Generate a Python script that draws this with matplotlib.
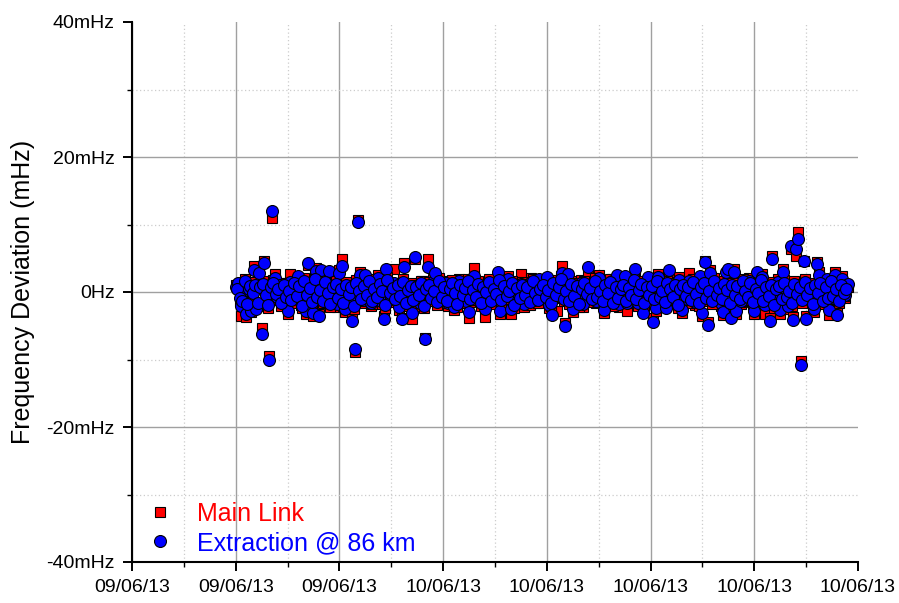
import datetime as dt
import matplotlib
matplotlib.use("Agg")
import matplotlib.pyplot as plt
import matplotlib.dates as mdates

plt.rcParams["font.family"] = ["Liberation Sans", "DejaVu Sans"]

# readings every 3 minutes from 16:00 on 9 June 2013, stored as two
# 6-minute passes: pass A at 16:00, 16:06, ... and pass B at 16:03, 16:09, ...
start = dt.datetime(2013, 6, 9, 16, 0)
step_min = 6

# frequency deviation in mHz, pass A
main_link_a = [
    1.1, 0.9, -3.5, 0.5, -3.7, 0.1, -3.0, 3.9, -2.0, 3.2,
    -5.3, 4.6, 0.9, -9.5, 11.0, 2.6, -1.2, 1.4, -0.8, 0.7,
    -3.3, 2.7, -1.3, 1.0, 2.0, -1.9, 0.5, -3.2, 4.0, -0.1,
    -3.5, 3.6, -3.2, 3.0, -0.9, 1.3, 2.7, -1.5, 0.8, -2.2,
    3.3, 4.9, -2.9, 1.0, -1.3, -3.4, -8.9, 10.6, 2.9, -1.6,
    2.1, 0.7, -2.1, 1.5, -1.0, 2.5, -1.8, -3.6, 3.0, 0.6,
    -1.4, 3.4, -0.7, -2.6, -3.9, 4.3, 1.2, -1.9, -4.0, 4.9,
    0.8, -2.0, 1.6, -6.8, 4.9, -1.1, 1.9, 2.5, -1.5, 1.0,
    -0.8, 1.7, -2.0, 1.3, -2.6, 0.5, 2.0, -1.2, 0.9, -1.7,
    -3.9, 1.2, 3.6, -0.9, 1.4, -1.9, -3.7, 0.7, 1.8, -1.3,
    1.0, 2.6, -3.2, -0.6, 1.5, 2.3, -3.3, 0.8, -1.4, 1.3,
    2.7, -2.2, 0.6, -1.1, 2.1, 1.2, -1.6, 1.5, -0.7, 0.9,
    1.8, -2.3, -3.0, 1.1, -2.8, 1.7, 3.9, -4.6, 2.3, -0.8,
    -2.9, 1.3, -1.5, 1.8, -2.2, 0.6, 2.8, -1.2, 1.0, -1.7,
    2.5, 0.7, -3.1, 1.4, -0.9, 2.0, -1.6, 2.1, -2.2, 0.8,
    2.0, -2.8, 1.1, -1.3, 2.7, -2.0, 0.9, -2.7, -1.3, 1.8,
    -1.1, -3.9, -2.8, 2.6, 0.7, 1.6, -2.0, 2.9, -1.0, 1.3,
    -1.7, 2.2, -3.1, 0.8, -1.4, 2.8, 0.6, -1.9, 1.2, 2.0,
    -3.5, 4.6, -4.5, 3.2, -0.7, 1.3, -1.6, -2.0, -3.4, 2.6,
    3.0, -3.5, 3.4, -3.2, 0.9, -1.8, 1.5, -1.0, 2.1, -1.5,
    -3.2, 2.6, 0.8, 2.6, -3.3, 1.2, -3.9, 5.3, -1.3, 1.9,
    -3.3, 3.4, -0.7, -2.5, 6.3, -3.7, 5.3, 8.9, -10.2, 4.6,
    -3.6, 0.7, -1.7, -2.9, 4.5, 2.9, -1.0, 1.2, 1.5, -3.4,
    -1.3, 2.9, -3.0, -0.1, 2.4, -0.9, 0.8,
]
extraction_a = [
    0.8, 1.3, -2.1, 0.2, -3.3, 0.5, -2.8, 3.3, -2.5, 2.8,
    -6.2, 4.3, 0.6, -10.1, 12.0, 2.1, -0.8, 1.0, -1.2, 0.3,
    -2.8, 1.5, -0.9, 0.7, 2.4, -1.5, 0.1, -2.8, 4.3, -0.4,
    -3.1, 3.1, -3.6, 3.3, -0.5, 0.9, 3.1, -1.1, 0.4, -1.8,
    2.8, 3.9, -2.5, 0.6, -0.9, -4.3, -8.4, 10.4, 2.5, -1.2,
    2.5, 0.3, -1.7, 1.1, -0.6, 2.1, -1.4, -4.0, 3.4, 0.2,
    -1.0, 1.4, -0.3, -2.2, -4.0, 3.7, 0.8, -1.5, -3.1, 5.2,
    0.4, -1.6, 1.2, -7.0, 3.7, -0.7, 1.5, 2.8, -1.1, 0.6,
    -0.4, 1.3, -1.6, 0.9, -2.2, 0.1, 1.6, -0.8, 0.5, -1.3,
    -3.0, 0.8, 2.4, -0.5, 1.0, -1.5, -2.5, 0.3, 1.4, -0.9,
    0.6, 3.0, -2.8, -0.2, 1.1, 1.9, -2.5, 0.4, -1.0, 0.9,
    1.2, -1.8, 0.2, -0.7, 1.5, 0.8, -1.2, 1.9, -0.3, 0.5,
    2.2, -1.9, -3.4, 0.7, -0.6, 1.3, 2.8, -5.0, 2.7, -0.4,
    -2.5, 0.9, -1.1, 1.4, -1.8, 0.2, 3.7, -0.8, 0.6, -1.3,
    2.1, 0.3, -2.7, 1.0, -0.5, 1.6, -1.2, 2.5, -1.8, 0.4,
    2.4, -1.6, 0.7, -0.9, 3.4, -1.6, 0.5, -3.1, 1.0, 2.2,
    -0.7, -4.4, -2.4, 2.2, 0.3, 1.2, -2.4, 3.3, -0.6, 0.9,
    -1.3, 1.8, -2.7, 0.4, -1.0, 1.6, 0.2, -1.5, 0.8, 2.4,
    -3.1, 4.4, -4.9, 2.8, -0.3, 0.9, -1.2, -1.6, -3.0, 3.0,
    3.4, -3.9, 3.0, -2.8, 0.5, -1.4, 1.1, -0.6, 1.7, -1.1,
    -2.8, 3.0, 0.4, 2.2, -1.9, 0.8, -4.3, 4.9, -0.9, 1.5,
    -2.6, 2.9, -0.3, -2.1, 6.8, -4.1, 6.4, 7.9, -10.8, 4.6,
    -4.0, 0.3, -1.3, -2.5, 4.1, 2.5, -0.6, 0.8, 1.9, -2.7,
    -0.9, 2.5, -3.4, 0.9, 2.0, -0.5, 1.2,
]

# pass B, 3 minutes after each pass A reading
main_link_b = [
    0.7, -1.3, -1.0, 2.0, -2.2, 1.2, -0.6, 1.5, -2.0, 1.0,
    1.6, -0.9, -2.3, 1.1, 1.8, -0.7, 0.9, -2.1, 1.3, -1.2,
    0.6, -1.6, 1.7, -1.0, 1.2, -2.4, 2.1, -0.8, 1.0, -1.9,
    2.3, -1.1, 0.7, -1.7, 1.9, -0.5, -2.2, 1.2, 1.6, -1.3,
    0.9, -2.0, 1.5, -0.7, 1.1, -2.5, 1.8, 0.6, -1.4, 1.3,
    -0.9, 2.0, -1.8, 0.8, -1.2, 1.6, 0.5, -2.3, 2.2, -0.6,
    1.0, -1.5, 1.4, -1.0, 1.9, -2.1, 0.7, 1.3, -1.6, 1.1,
    -0.8, 1.7, -2.4, 0.9, 1.5, -1.3, 0.6, -1.9, 2.1, -1.1,
    1.2, -1.7, 0.8, 1.8, -0.6, -2.2, 1.4, -0.9, 1.0, 2.0,
    -1.5, 0.7, -1.2, 1.6, -2.0, 1.1, 0.4, 1.9, -1.8, 0.9,
    -0.7, 2.2, -1.6, 1.3, -1.0, 0.6, 1.7, -2.3, 1.0, -1.3,
    1.5, -0.8, 1.2, -1.9, 2.0, -0.5, -1.6, 0.8, 1.4, -1.1,
    0.7, -2.1, 1.8, -0.9, 1.1, 2.3, -1.4, 0.5, -1.8, 1.6,
    -1.0, 1.3, -2.2, 0.9, 1.7, -0.7, 1.0, -1.5, 2.1, -1.2,
    0.6, -1.8, 1.4, -0.6, 1.9, -2.0, 1.1, -1.3, 0.8, 1.5,
    -1.7, 1.0, -0.9, 2.2, -1.4, 0.7, 1.6, -2.1, 1.2, -0.8,
    1.3, -1.5, 2.0, -1.1, 0.5, -1.9, 1.7, 0.9, -1.2, 1.4,
    -2.3, 0.8, 1.5, -1.0, 1.2, -1.6, 1.9, -0.7, -2.0, 1.1,
    1.8, -1.3, 0.6, -1.8, 2.1, -0.9, 1.0, -1.4, 1.6, 0.7,
    -2.1, 1.4, -0.8, 1.3, -1.5, 2.0, 0.5, -1.2, 1.7, -1.9,
    0.9, -0.6, 2.2, -1.7, 1.1, -1.0, 1.5, -2.3, 0.8, 1.3,
    -1.4, 1.8, -1.1, 0.6, -2.0, 1.6, -0.7, 1.2, -1.6, 1.9,
    -0.9, 1.0, -2.2, 1.4, -0.5, 1.7, -1.8, 1.1, -1.3, 2.0,
    -1.0, 0.8, -1.7, 1.5, -0.6, 0.9,
]
extraction_b = [
    0.4, -0.9, -1.4, 1.6, -1.8, 0.9, -0.2, 1.1, -1.6, 0.7,
    1.2, -0.5, -1.9, 0.8, 1.4, -0.3, 0.5, -1.7, 1.0, -0.8,
    0.2, -1.2, 1.3, -0.6, 0.9, -2.0, 1.7, -0.4, 0.6, -1.5,
    1.9, -0.7, 0.3, -1.3, 1.5, -0.1, -1.8, 0.8, 1.2, -0.9,
    0.5, -1.6, 1.1, -0.3, 0.7, -2.1, 1.4, 0.2, -1.0, 0.9,
    -0.5, 1.6, -1.4, 0.4, -0.8, 1.2, 0.1, -1.9, 1.8, -0.2,
    0.6, -1.1, 1.0, -0.6, 1.5, -1.7, 0.3, 0.9, -1.2, 0.7,
    -0.4, 1.3, -2.0, 0.5, 1.1, -0.9, 0.2, -1.5, 1.7, -0.7,
    0.8, -1.3, 0.4, 1.4, -0.2, -1.8, 1.0, -0.5, 0.6, 1.6,
    -1.1, 0.3, -0.8, 1.2, -1.6, 0.7, 0.0, 1.5, -1.4, 0.5,
    -0.3, 1.8, -1.2, 0.9, -0.6, 0.2, 1.3, -1.9, 0.6, -0.9,
    1.1, -0.4, 0.8, -1.5, 1.6, -0.1, -1.2, 0.4, 1.0, -0.7,
    0.3, -1.7, 1.4, -0.5, 0.7, 1.9, -1.0, 0.1, -1.4, 1.2,
    -0.6, 0.9, -1.8, 0.5, 1.3, -0.3, 0.6, -1.1, 1.7, -0.8,
    0.2, -1.4, 1.0, -0.2, 1.5, -1.6, 0.7, -0.9, 0.4, 1.1,
    -1.3, 0.6, -0.5, 1.8, -1.0, 0.3, 1.2, -1.7, 0.8, -0.4,
    0.9, -1.1, 1.6, -0.7, 0.1, -1.5, 1.3, 0.5, -0.8, 1.0,
    -1.9, 0.4, 1.1, -0.6, 0.8, -1.2, 1.5, -0.3, -1.6, 0.7,
    1.4, -0.9, 0.2, -1.4, 1.7, -0.5, 0.6, -1.0, 1.2, 0.3,
    -1.7, 1.0, -0.4, 0.9, -1.1, 1.6, 0.1, -0.8, 1.3, -1.5,
    0.5, -0.2, 1.8, -1.3, 0.7, -0.6, 1.1, -1.9, 0.4, 0.9,
    -1.0, 1.4, -0.7, 0.2, -1.6, 1.2, -0.3, 0.8, -1.2, 1.5,
    -0.5, 0.6, -1.8, 1.0, -0.1, 1.3, -1.4, 0.7, -0.9, 1.6,
    -0.6, 0.4, -1.3, 1.1, -0.2, 0.5,
]

series_names = ["Main Link", "Extraction @ 86 km"]
y_ticks = [-40, -20, 0, 20, 40]
y_labels = ["-40mHz", "-20mHz", "0Hz", "20mHz", "40mHz"]

times_a = [start + dt.timedelta(minutes=step_min * i) for i in range(len(main_link_a))]
times_b = [t + dt.timedelta(minutes=step_min / 2) for t in times_a[:len(main_link_b)]]
times = times_a + times_b
main_link = main_link_a + main_link_b
extraction = extraction_a + extraction_b

fig = plt.figure(figsize=(8.99, 6.03), dpi=100)
ax = fig.add_axes([132 / 899, 1 - 562 / 603, 726 / 899, 540 / 603])

ax.plot(times, main_link, "s", ms=7.6, mfc="#ff0000", mec="black", mew=0.8,
        label=series_names[0], zorder=3)
ax.plot(times, extraction, "o", ms=8.6, mfc="#0000ff", mec="black", mew=0.8,
        label=series_names[1], zorder=4)

# 4-hourly ticks from noon on the 9th to 16:00 on the 10th
t_lo = dt.datetime(2013, 6, 9, 12)
major = [t_lo + dt.timedelta(hours=4 * k) for k in range(8)]
minor = [t_lo + dt.timedelta(hours=4 * k + 2) for k in range(7)]
ax.set_xlim(major[0], major[-1])
ax.set_xticks(mdates.date2num(major))
ax.set_xticks(mdates.date2num(minor), minor=True)
ax.xaxis.set_major_formatter(mdates.DateFormatter("%d/%m/%y"))

ax.set_ylim(-40, 40)
ax.set_yticks(y_ticks, y_labels)
ax.set_yticks([-30, -10, 10, 30], minor=True)

ax.grid(which="major", color="#a0a0a0", lw=1.0)
ax.grid(which="minor", color="#cccccc", lw=0.9, ls=(0, (1, 2)))
ax.set_axisbelow(True)
ax.xaxis.get_major_ticks()[-1].gridline.set_visible(False)
ax.yaxis.get_major_ticks()[-1].gridline.set_visible(False)

for side in ("top", "right"):
    ax.spines[side].set_visible(False)
for side in ("left", "bottom"):
    ax.spines[side].set_linewidth(1.5)

ax.tick_params(which="major", direction="out", length=6.5, width=1.4,
               labelsize=14, pad=6)
ax.tick_params(which="minor", direction="out", length=3.5, width=1.0)

ax.set_ylabel("Frequency Deviation (mHz)", fontsize=18)
ax.yaxis.set_label_coords(-0.134, 0.5)

leg = ax.legend(loc="lower left", bbox_to_anchor=(147 / 899, 1 - 555 / 603),
                bbox_transform=fig.transFigure, frameon=False, fontsize=18,
                handlelength=1.0, handletextpad=1.0, borderpad=0,
                borderaxespad=0, labelspacing=0.2)
for text, color in zip(leg.get_texts(), ["#ff0000", "#0000ff"]):
    text.set_color(color)

fig.savefig("out.png", dpi=100)
